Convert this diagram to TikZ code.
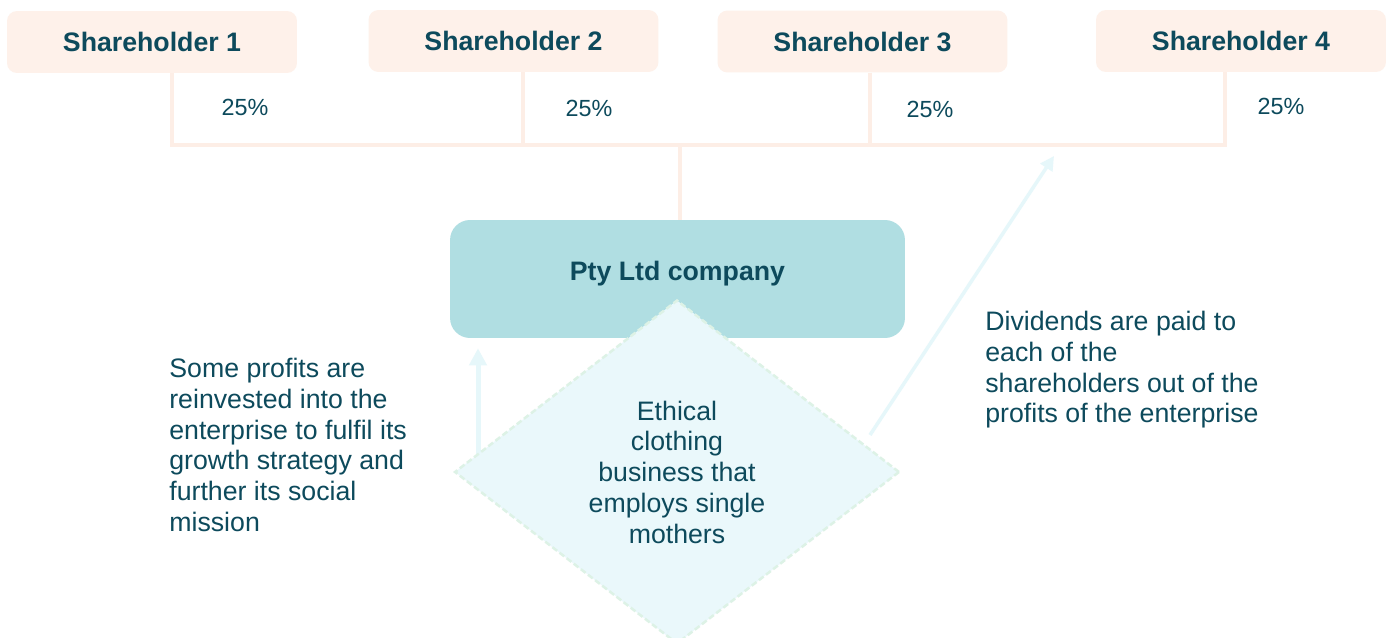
\documentclass[tikz,border=0pt]{standalone}
\usepackage{fontspec}
\setmainfont{Liberation Sans}
\usetikzlibrary{shapes.geometric,arrows.meta,calc}
\definecolor{peachfill}{HTML}{FEF1EA}
\definecolor{peachline}{HTML}{FDEEE6}
\definecolor{txt}{HTML}{0D4A5C}
\definecolor{ptyfill}{HTML}{B0DEE2}
\definecolor{diafill}{HTML}{EAF8FB}
\definecolor{diaborder}{HTML}{DDF2E6}
\definecolor{arrowc}{HTML}{E6F7FA}
\tikzset{
  shbox/.style={rectangle, rounded corners=2mm, fill=peachfill, minimum width=58mm, minimum height=12.4mm, inner sep=0pt, text=txt, font=\fontsize{15.2}{17.5}\selectfont\bfseries},
  ptybox/.style={rectangle, rounded corners=4mm, fill=ptyfill, minimum width=91mm, minimum height=23.6mm, inner sep=0pt, text=txt, font=\fontsize{15.2}{17.5}\selectfont\bfseries, text height=11pt, text depth=9pt},
  diabox/.style={diamond, fill=diafill, draw=diaborder, line width=0.5mm, dash pattern=on 1.2mm off 0.6mm, minimum width=89mm, minimum height=68.8mm, inner sep=0pt, text=txt, align=center, font=\fontsize{15.2}{17.5}\selectfont},
  pct/.style={text=txt, inner sep=0pt, font=\fontsize{13.3}{15}\selectfont},
  bodytext/.style={text=txt, inner sep=0pt, align=left, anchor=north west, font=\fontsize{15.2}{17.5}\selectfont},
  conn/.style={draw=peachline, line width=0.8mm},
  bigarrow/.style={draw=arrowc, line width=1mm, -{Triangle[width=3.4mm,length=3.4mm]}},
  thinarrow/.style={draw=arrowc, line width=0.7mm, -{Triangle[width=2.8mm,length=2.8mm]}}
}
\begin{document}
\begin{tikzpicture}[x=0.02cm, y=-0.02cm]
\useasboundingbox[fill=white] (0,0) rectangle (1386,638);

% shareholders
\node[shbox] (sh1) at (152,42) {Shareholder 1};
\node[shbox] (sh2) at (513.5,41) {Shareholder 2};
\node[shbox] (sh3) at (862.5,41.5) {Shareholder 3};
\node[shbox] (sh4) at (1241,41) {Shareholder 4};

% junction coordinates
\coordinate (j1) at (172,145);
\coordinate (j2) at (523,145);
\coordinate (j3) at (870,145);
\coordinate (j4) at (1225,145);
\coordinate (jc) at (680,145);

% company
\node[ptybox] (pty) at (677.5,279) {Pty Ltd company};

% connectors from shareholders
\draw[conn] (sh1.south -| j1) -- (j1) -- (j4) -- (sh4.south -| j4);
\draw[conn] (sh2.south -| j2) -- (j2);
\draw[conn] (sh3.south -| j3) -- (j3);
\draw[conn] (pty.north -| jc) -- (jc);

% percentages
\node[pct] (p1) at (245,107) {25\%};
\node[pct] (p2) at (589,108) {25\%};
\node[pct] (p3) at (930,109) {25\%};
\node[pct] (p4) at (1281,106) {25\%};

% arrows
\coordinate (ua) at (478,456);
\coordinate (da) at (870,435);
\coordinate (db) at (1054,156);
\draw[bigarrow] (ua) -- ($(ua |- pty.south)+(0,10)$);
\draw[thinarrow] (da) -- (db);

\node[diabox] (dia) at (677,472) {Ethical\\clothing\\business that\\employs single\\mothers};

% explanatory texts
\node[bodytext] (lt) at (169,358) {Some profits are\\reinvested into the\\enterprise to fulfil its\\growth strategy and\\further its social\\mission};
\node[bodytext] (rt) at (985,311) {Dividends are paid to\\each of the\\shareholders out of the\\profits of the enterprise};
\end{tikzpicture}
\end{document}
